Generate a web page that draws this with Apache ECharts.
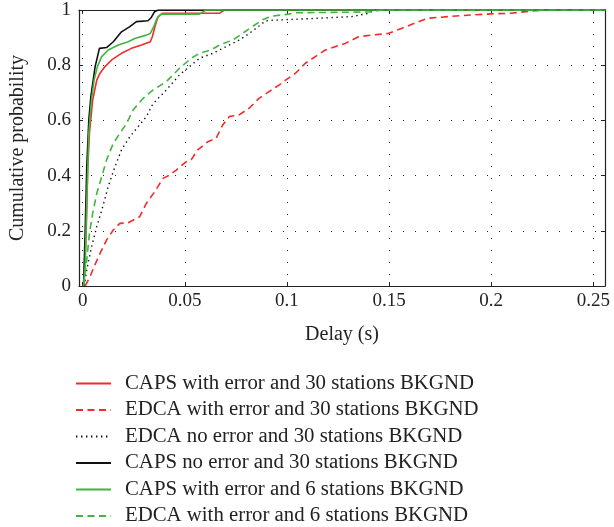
<!DOCTYPE html>
<html>
<head>
<meta charset="utf-8">
<script src="https://cdn.jsdelivr.net/npm/echarts@6/dist/echarts.min.js"></script>
<style>
html,body{margin:0;padding:0;background:#fff;}
#chart{width:614px;height:527px;}
</style>
</head>
<body>
<div id="chart"></div>
<script>
// ---- data (x = delay in s, y = cumulative probability) ----
const seriesNames = [
  'CAPS with error and 30 stations BKGND',
  'EDCA with error and 30 stations BKGND',
  'EDCA no error and 30 stations BKGND',
  'CAPS no error and 30 stations BKGND',
  'CAPS with error and 6 stations BKGND',
  'EDCA with error and 6 stations BKGND'
];
const capsErr30 = [[0.0007,0],[0.0017,0.19],[0.0025,0.43],[0.0033,0.553],[0.0049,0.674],[0.0069,0.746],[0.0085,0.771],[0.0109,0.795],[0.0142,0.819],[0.0190,0.843],[0.0239,0.861],[0.0288,0.873],[0.0331,0.885],[0.0341,0.903],[0.0354,0.94],[0.0369,0.976],[0.0390,0.988],[0.0669,0.988],[0.0693,1],[0.256,1]];
const edcaErr30 = [[0.0012,0],[0.0036,0.034],[0.0056,0.07],[0.0085,0.118],[0.0117,0.167],[0.0150,0.203],[0.0182,0.227],[0.0223,0.229],[0.0279,0.251],[0.0312,0.3],[0.0353,0.342],[0.0393,0.39],[0.0426,0.402],[0.0458,0.42],[0.0506,0.45],[0.0531,0.457],[0.0563,0.493],[0.0613,0.523],[0.0653,0.535],[0.0685,0.583],[0.0718,0.614],[0.0766,0.62],[0.0815,0.644],[0.0863,0.68],[0.0912,0.704],[0.0961,0.728],[0.0993,0.746],[0.1042,0.771],[0.1090,0.807],[0.1139,0.831],[0.1188,0.855],[0.1236,0.867],[0.1285,0.879],[0.1350,0.903],[0.1415,0.909],[0.1495,0.915],[0.1560,0.933],[0.1625,0.952],[0.1690,0.97],[0.1787,0.976],[0.1901,0.982],[0.1998,0.986],[0.2095,0.988],[0.2192,0.996],[0.2257,1],[0.256,1]];
const edcaNoErr30 = [[0.0007,0],[0.0023,0.07],[0.0044,0.143],[0.0069,0.215],[0.0098,0.287],[0.0125,0.36],[0.0158,0.432],[0.0190,0.493],[0.0231,0.541],[0.0271,0.577],[0.0312,0.614],[0.0344,0.66],[0.0409,0.71],[0.0474,0.765],[0.0523,0.795],[0.0572,0.825],[0.0637,0.843],[0.0701,0.867],[0.0766,0.891],[0.0815,0.915],[0.0863,0.942],[0.0896,0.961],[0.0961,0.964],[0.1025,0.966],[0.1155,0.97],[0.1317,0.976],[0.1398,0.988],[0.1423,1],[0.256,1]];
const capsNoErr30 = [[0.0004,0],[0.0012,0.191],[0.0020,0.432],[0.0030,0.601],[0.0040,0.686],[0.0061,0.795],[0.0082,0.861],[0.0117,0.864],[0.0150,0.885],[0.0190,0.921],[0.0231,0.940],[0.0263,0.958],[0.0320,0.961],[0.0336,0.973],[0.0352,0.994],[0.0369,1],[0.256,1]];
const capsErr6 = [[0.0004,0],[0.0012,0.07],[0.0020,0.31],[0.0030,0.553],[0.0043,0.674],[0.0056,0.746],[0.0072,0.795],[0.0093,0.831],[0.0125,0.855],[0.0174,0.873],[0.0223,0.885],[0.0255,0.897],[0.0312,0.909],[0.0331,0.915],[0.0348,0.94],[0.0364,0.97],[0.0385,0.985],[0.0571,0.985],[0.0604,1],[0.256,1]];
const edcaErr6 = [[0.0004,0],[0.0020,0.094],[0.0033,0.19],[0.0049,0.263],[0.0069,0.336],[0.0093,0.396],[0.0117,0.457],[0.0150,0.517],[0.0182,0.553],[0.0215,0.589],[0.0247,0.638],[0.0296,0.68],[0.0344,0.71],[0.0409,0.74],[0.0474,0.789],[0.0531,0.825],[0.0572,0.843],[0.0628,0.855],[0.0669,0.873],[0.0734,0.891],[0.0782,0.915],[0.0831,0.94],[0.0879,0.964],[0.0928,0.978],[0.0999,0.984],[0.1042,0.99],[0.1415,0.993],[0.1463,1],[0.256,1]];
const xTickValues = [0, 0.05, 0.1, 0.15, 0.2, 0.25];
const xLabels = ['0', '0.05', '0.1', '0.15', '0.2', '0.25'];

const RED = '#f42a2a', GREEN = '#3fb63f', BLACK = '#111';
const FONT = 'Liberation Serif';
const seriesData = [capsErr30, edcaErr30, edcaNoErr30, capsNoErr30, capsErr6, edcaErr6];
const seriesStyle = [
  {color: RED, type: 'solid', width: 1.6},
  {color: RED, type: [7, 4.5], width: 1.6},
  {color: BLACK, type: [1.4, 3.6], width: 1.4},
  {color: BLACK, type: 'solid', width: 1.6},
  {color: GREEN, type: 'solid', width: 1.6},
  {color: GREEN, type: [7, 4.5], width: 1.6}
];

const XMIN = -0.0018, XMAX = 0.2557;
function xFmt(v) {
  for (let i = 0; i < xTickValues.length; i++) {
    if (Math.abs(v - xTickValues[i]) < 1e-7) return xLabels[i];
  }
  return '';
}
const frameLine = {show: true, onZero: false, lineStyle: {color: '#222', width: 1.2}};
const tickIn = {show: true, inside: true, length: 4, lineStyle: {color: '#222', width: 1}};
const gridDots = {show: true, lineStyle: {color: '#222', width: 1, type: [1, 11]}};

const chart = echarts.init(document.getElementById('chart'), null, {renderer: 'canvas'});
chart.setOption({
  animation: false,
  backgroundColor: '#fff',
  textStyle: {fontFamily: FONT},
  grid: {left: 75.5, right: 9, top: 10, bottom: 241},
  legend: {
    orient: 'vertical', left: 75, top: 373, padding: 0,
    itemWidth: 35, itemHeight: 14, itemGap: 5.5,
    data: seriesNames,
    itemStyle: {color: 'transparent', borderColor: 'transparent', borderWidth: 0, opacity: 0},
    textStyle: {fontFamily: FONT, fontSize: 20.8, color: '#222', padding: [0, 0, 0, 9]}
  },
  xAxis: [{
    type: 'value', min: XMIN, max: XMAX, position: 'bottom',
    name: 'Delay (s)', nameLocation: 'middle', nameGap: 39,
    nameTextStyle: {fontFamily: FONT, fontSize: 20, color: '#222'},
    axisLine: frameLine, axisTick: tickIn,
    axisLabel: {formatter: xFmt, fontFamily: FONT, fontSize: 19, color: '#222', margin: 6},
    splitLine: gridDots
  }, {
    type: 'value', min: XMIN, max: XMAX, position: 'top',
    axisLine: frameLine, axisTick: tickIn, axisLabel: {show: false}, splitLine: {show: false}
  }],
  yAxis: [{
    type: 'value', min: 0, max: 1, interval: 0.2, position: 'left',
    name: 'Cumulative probability', nameLocation: 'middle', nameGap: 51,
    nameTextStyle: {fontFamily: FONT, fontSize: 20, color: '#222'},
    axisLine: frameLine, axisTick: tickIn,
    axisLabel: {fontFamily: FONT, fontSize: 19, color: '#222', margin: 8},
    splitLine: gridDots
  }, {
    type: 'value', min: 0, max: 1, interval: 0.2, position: 'right',
    axisLine: frameLine, axisTick: tickIn, axisLabel: {show: false}, splitLine: {show: false}
  }],
  series: seriesNames.map((n, i) => ({
    name: n, type: 'line', data: seriesData[i], symbol: 'none', showSymbol: false,
    xAxisIndex: 0, yAxisIndex: 0, clip: true,
    lineStyle: seriesStyle[i], itemStyle: {color: seriesStyle[i].color},
    emphasis: {disabled: true}
  }))
});
</script>
</body>
</html>
